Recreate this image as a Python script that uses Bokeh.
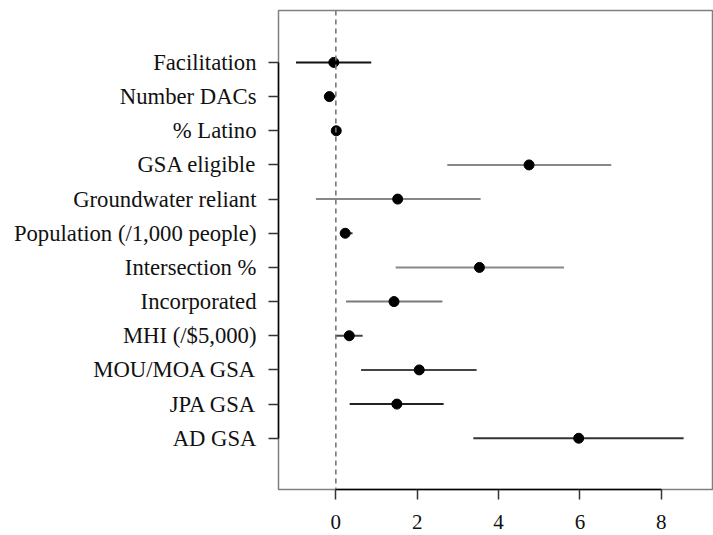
from bokeh.plotting import figure
from bokeh.models import Range1d, FixedTicker, Span, ColumnDataSource
from bokeh.embed import file_html
from bokeh.resources import INLINE

labels = ["Facilitation", "Number DACs", "% Latino", "GSA eligible", "Groundwater reliant",
          "Population (/1,000 people)", "Intersection %", "Incorporated", "MHI (/$5,000)",
          "MOU/MOA GSA", "JPA GSA", "AD GSA"]
estimate = [-0.05, -0.16, 0.01, 4.75, 1.52, 0.23, 3.53, 1.43, 0.33, 2.05, 1.50, 5.97]
lower = [-0.98, -0.28, -0.02, 2.74, -0.49, 0.10, 1.47, 0.25, 0.00, 0.62, 0.34, 3.38]
upper = [0.87, -0.01, 0.04, 6.77, 3.56, 0.41, 5.61, 2.62, 0.66, 3.46, 2.65, 8.55]
line_colors = ["#111111", "#111111", "#111111", "#888888", "#888888", "#333333",
               "#888888", "#7a7a7a", "#444444", "#444444", "#222222", "#333333"]
x_ticks = [0, 2, 4, 6, 8]
ref_value = 0

n = len(labels)
ypos = [n - i for i in range(n)]

src = ColumnDataSource(dict(y=ypos, est=estimate, lo=lower, hi=upper, col=line_colors))

p = figure(width=713, height=535, output_backend="svg", toolbar_location=None,
           x_range=Range1d(-1.41, 9.26), y_range=Range1d(-0.50, 13.52),
           min_border_left=278, min_border_right=1, min_border_top=10, min_border_bottom=46)

p.xgrid.visible = False
p.ygrid.visible = False
p.outline_line_color = "#808080"
p.outline_line_width = 1.5
p.background_fill_color = "white"
p.border_fill_color = "white"

p.add_layout(Span(location=ref_value, dimension="height", line_color="#777777",
                  line_width=1.6, line_dash="5 4"))

p.segment(x0="lo", x1="hi", y0="y", y1="y", line_color="col", line_width=2, source=src)
p.scatter(x="est", y="y", size=10, fill_color="black", line_color="black", source=src)

p.xaxis.ticker = FixedTicker(ticks=x_ticks)
p.xaxis.bounds = (min(x_ticks), max(x_ticks))
p.yaxis.ticker = FixedTicker(ticks=ypos)
p.yaxis.bounds = (min(ypos), max(ypos))
p.yaxis.major_label_overrides = {yv: lab for yv, lab in zip(ypos, labels)}

for ax in (p.xaxis[0], p.yaxis[0]):
    ax.axis_line_color = "black"
    ax.axis_line_width = 1.5
    ax.major_tick_line_color = "#333333"
    ax.major_tick_line_width = 1.5
    ax.major_tick_out = 10
    ax.major_tick_in = 0
    ax.minor_tick_line_color = None
    ax.major_label_text_font = "'Liberation Serif', serif"
    ax.major_label_text_color = "#111111"
p.yaxis.major_label_text_font_size = "22.7px"
p.xaxis.major_label_text_font_size = "21px"
p.xaxis.major_label_standoff = 15
p.yaxis.major_label_standoff = 12

open("out.html", "w").write(file_html(p, INLINE))
